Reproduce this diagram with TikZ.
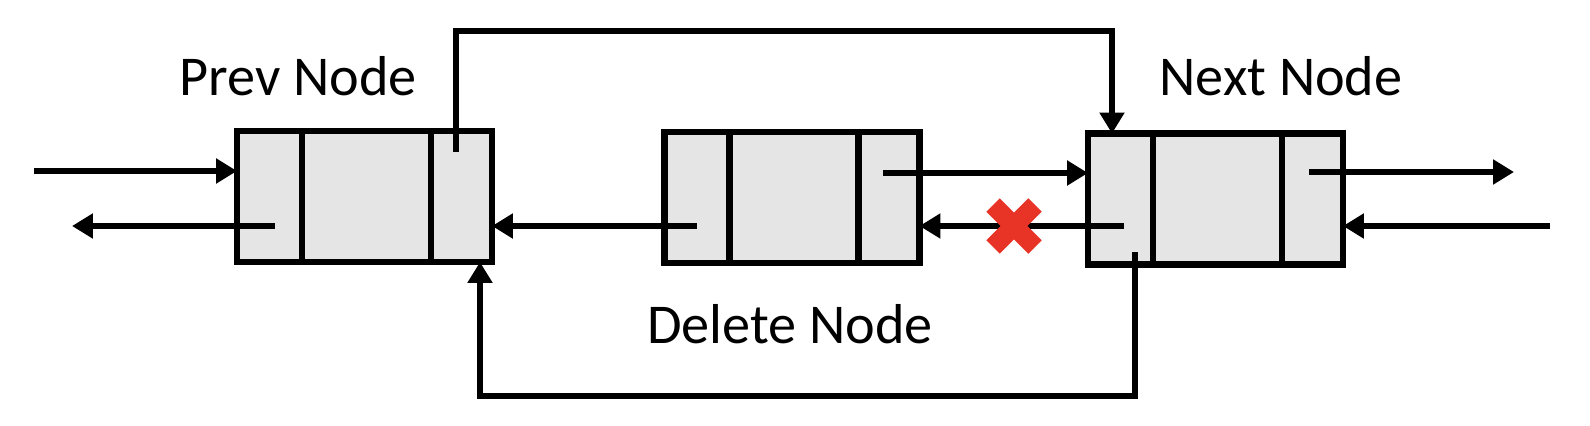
\documentclass[tikz,border=0pt]{standalone}
\usepackage{fontspec}
\setmainfont{Carlito}
\usetikzlibrary{positioning, arrows.meta, calc}
\definecolor{cellgray}{RGB}{229, 229, 229}
\definecolor{cutred}{RGB}{232, 52, 38}

\begin{document}
\begin{tikzpicture}[x=0.02cm, y=-0.02cm,
    listbox/.style={draw, fill=cellgray, line width=3.7pt, minimum width=5.1cm,
      minimum height=2.62cm, inner sep=0pt, outer sep=0pt},
    link/.style={line width=3.9pt, -{Triangle[length=0.42cm, width=0.48cm]}},
    caption/.style={font=\fontsize{32}{38}\selectfont, anchor=base}]
    \useasboundingbox (0,0) rectangle (1590,426);

    \node[listbox] (prev) at (364.5,196.5) {};
    \node[listbox] (del)  at (792,197.5) {};
    \node[listbox] (next) at (1215.5,199) {};

    \foreach \n in {prev, del, next} {
      \draw[line width=3.7pt] ($(\n.north west)+(65,0)$) -- ($(\n.south west)+(65,0)$);
      \draw[line width=3.7pt] ($(\n.north west)+(194,0)$) -- ($(\n.south west)+(194,0)$);
    }

    \node[caption] (prevlbl) at (298,95) {Prev Node};
    \node[caption] (nextlbl) at (1281,95) {Next Node};
    \node[caption] (dellbl)  at (790,343) {Delete Node};

    \coordinate (inL)  at (34,171);
    \coordinate (outL) at (72,226);
    \coordinate (outR) at (1514,172);
    \coordinate (inR)  at (1550,226);
    \coordinate (pN)   at (456,152);
    \coordinate (pP)   at (275,226);
    \coordinate (dN)   at (883,173);
    \coordinate (dP)   at (697,226);
    \coordinate (nN)   at (1309,172);
    \coordinate (nP)   at (1124,226);
    \coordinate (nB)   at (1135,252);
    \coordinate (topc) at (1112,31);
    \coordinate (botc) at (480,396);

    \draw[link] (inL) -- (inL -| prev.west);
    \draw[link] (pP) -- (outL);
    \draw[link] (dP) -- (dP -| prev.east);
    \draw[link] (dN) -- (dN -| next.west);
    \draw[link] (nP) -- (nP -| del.east);
    \draw[link] (nN) -- (outR);
    \draw[link] (inR) -- (inR -| next.east);

    \draw[link] (pN) |- (topc) -- (topc |- next.north);
    \draw[link] (nB) |- (botc) -- (botc |- prev.south);

    % broken link
    \draw[cutred, line width=0.38cm] (993,205) -- (1035,247);
    \draw[cutred, line width=0.38cm] (1035,205) -- (993,247);
\end{tikzpicture}
\end{document}
